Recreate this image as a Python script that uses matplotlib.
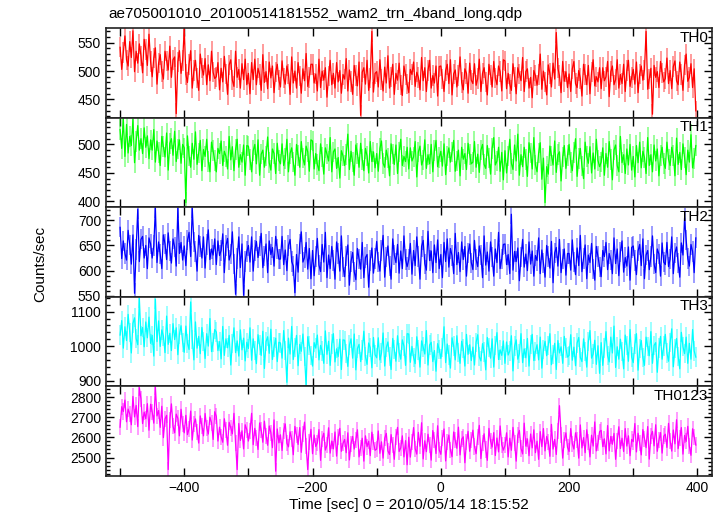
import numpy as np
import matplotlib
matplotlib.use('Agg')
import matplotlib.pyplot as plt
from matplotlib.ticker import MultipleLocator

plt.rcParams['font.family'] = ['Liberation Sans', 'DejaVu Sans']

# 2.5 s bins starting at -500 s (20 bins per row = 50 s)
t0, dt, nbin = -500, 2.5, 360
time = t0 + dt * np.arange(nbin)

th0 = [
    542, 503, 533, 562, 520, 509, 552, 524, 571, 499, 535, 514, 548, 527, 497, 556, 538, 510, 565, 517,
    490, 523, 541, 477, 514, 529, 499, 486, 535, 518, 502, 544, 489, 520, 525, 425, 516, 536, 496, 519,
    574, 494, 480, 512, 536, 470, 501, 519, 488, 466, 530, 505, 493, 522, 476, 511, 483, 535, 498, 487,
    490, 515, 467, 505, 481, 526, 495, 459, 511, 520, 484, 473, 535, 489, 503, 470, 513, 485, 521, 476,
    496, 460, 515, 485, 521, 476, 505, 494, 466, 529, 480, 499, 469, 516, 488, 509, 462, 498, 512, 484,
    472, 518, 488, 477, 509, 495, 459, 525, 479, 500, 470, 515, 491, 461, 504, 483, 531, 473, 489, 512,
    512, 479, 495, 465, 521, 471, 500, 484, 506, 454, 491, 519, 476, 496, 470, 515, 481, 501, 461, 494,
    486, 522, 465, 502, 482, 459, 510, 492, 474, 516, 422, 498, 506, 477, 519, 466, 488, 570, 463, 496,
    499, 472, 520, 485, 465, 507, 479, 527, 470, 490, 512, 459, 496, 484, 514, 475, 457, 509, 494, 477,
    462, 503, 494, 516, 473, 498, 489, 467, 524, 483, 506, 464, 501, 519, 470, 492, 479, 509, 456, 508,
    509, 486, 464, 501, 512, 478, 520, 458, 495, 502, 472, 492, 525, 480, 467, 504, 496, 461, 514, 484,
    478, 513, 475, 487, 521, 464, 496, 506, 481, 458, 512, 493, 472, 517, 488, 476, 509, 499, 465, 520,
    518, 469, 496, 477, 466, 513, 490, 460, 506, 495, 483, 524, 464, 499, 504, 470, 489, 453, 501, 492,
    475, 494, 530, 468, 500, 481, 458, 511, 496, 472, 514, 486, 568, 505, 492, 462, 517, 482, 499, 471,
    495, 464, 504, 517, 478, 471, 501, 487, 456, 512, 494, 476, 510, 460, 498, 520, 474, 490, 481, 506,
    469, 506, 483, 490, 517, 455, 499, 509, 476, 485, 520, 470, 494, 478, 512, 464, 501, 519, 473, 489,
    503, 477, 516, 462, 495, 509, 484, 502, 570, 468, 486, 505, 424, 510, 489, 499, 471, 517, 497, 481,
    487, 523, 478, 501, 469, 508, 518, 483, 476, 516, 494, 466, 511, 530, 482, 489, 513, 471, 504, 430,
]
th1 = [
    526, 493, 545, 479, 535, 485, 514, 498, 544, 468, 505, 533, 490, 510, 484, 529, 495, 515, 475, 508,
    490, 526, 469, 506, 486, 463, 514, 496, 478, 520, 455, 502, 510, 481, 523, 470, 492, 508, 467, 500,
    494, 398, 515, 480, 460, 502, 474, 522, 465, 485, 507, 454, 491, 479, 509, 470, 452, 504, 489, 472,
    452, 493, 484, 506, 463, 488, 479, 457, 514, 473, 496, 454, 491, 509, 460, 482, 469, 499, 446, 498,
    497, 474, 452, 489, 500, 466, 508, 446, 483, 490, 460, 480, 513, 468, 455, 492, 484, 449, 502, 472,
    466, 501, 463, 475, 509, 452, 484, 494, 469, 446, 500, 481, 460, 505, 476, 464, 497, 487, 453, 508,
    506, 457, 484, 465, 454, 501, 478, 448, 494, 483, 471, 512, 452, 487, 492, 458, 477, 441, 489, 480,
    463, 482, 518, 456, 488, 469, 446, 499, 484, 460, 502, 474, 454, 493, 480, 450, 505, 470, 487, 459,
    484, 453, 493, 506, 467, 460, 490, 476, 445, 501, 483, 465, 499, 449, 487, 509, 463, 479, 470, 495,
    457, 494, 471, 478, 505, 443, 487, 497, 464, 473, 508, 458, 482, 466, 500, 452, 489, 507, 461, 477,
    488, 462, 501, 447, 480, 494, 469, 487, 507, 453, 471, 490, 445, 495, 474, 484, 456, 502, 482, 466,
    469, 505, 460, 483, 451, 490, 500, 465, 458, 498, 476, 448, 493, 512, 464, 471, 495, 453, 486, 438,
    489, 450, 480, 509, 467, 456, 499, 471, 518, 446, 482, 461, 495, 474, 444, 503, 485, 457, 512, 464,
    452, 485, 503, 439, 476, 398, 461, 448, 497, 480, 464, 506, 451, 482, 487, 436, 478, 498, 458, 481,
    500, 468, 454, 486, 510, 444, 475, 493, 462, 440, 504, 479, 467, 496, 450, 485, 457, 509, 472, 461,
    469, 494, 446, 484, 460, 505, 474, 438, 490, 499, 463, 452, 514, 468, 482, 449, 492, 464, 500, 455,
    479, 443, 498, 468, 504, 459, 488, 477, 449, 512, 463, 482, 452, 499, 471, 492, 445, 481, 495, 467,
    458, 504, 474, 463, 495, 481, 445, 511, 465, 486, 456, 501, 477, 447, 490, 469, 517, 459, 475, 498,
]
th2 = [
    686, 624, 659, 634, 621, 680, 651, 613, 671, 555, 642, 722, 618, 662, 668, 625, 650, 604, 665, 653,
    625, 650, 724, 616, 657, 633, 604, 671, 653, 622, 675, 639, 615, 663, 647, 609, 724, 634, 656, 621,
    649, 610, 660, 676, 628, 724, 657, 638, 599, 670, 648, 625, 667, 605, 652, 681, 622, 643, 631, 663,
    612, 659, 630, 640, 673, 596, 650, 664, 621, 633, 677, 614, 553, 624, 667, 606, 653, 551, 618, 638,
    650, 617, 667, 599, 640, 658, 626, 649, 674, 606, 629, 653, 596, 659, 632, 646, 609, 668, 643, 623,
    623, 668, 612, 641, 600, 650, 662, 618, 609, 556, 632, 597, 653, 677, 617, 626, 656, 603, 644, 584,
    640, 590, 628, 664, 611, 598, 652, 617, 676, 586, 631, 604, 648, 620, 583, 657, 634, 599, 669, 608,
    588, 629, 651, 571, 618, 636, 598, 582, 644, 623, 603, 656, 586, 626, 632, 567, 620, 645, 595, 624,
    658, 617, 599, 640, 670, 587, 627, 649, 610, 583, 663, 631, 616, 652, 595, 639, 604, 669, 622, 608,
    622, 654, 593, 640, 610, 667, 628, 583, 648, 660, 614, 601, 678, 620, 639, 596, 651, 616, 661, 604,
    632, 586, 656, 618, 663, 607, 644, 630, 594, 674, 612, 636, 598, 657, 622, 648, 589, 635, 653, 616,
    602, 660, 622, 608, 649, 631, 586, 669, 611, 637, 599, 657, 627, 589, 643, 616, 676, 604, 623, 652,
    653, 612, 632, 594, 712, 601, 638, 618, 645, 580, 627, 662, 607, 633, 600, 657, 613, 639, 589, 630,
    620, 665, 594, 641, 615, 587, 650, 628, 605, 658, 576, 635, 646, 609, 662, 596, 623, 643, 591, 634,
    634, 601, 661, 617, 592, 645, 610, 670, 598, 624, 651, 584, 631, 616, 654, 604, 581, 648, 628, 607,
    588, 640, 628, 656, 602, 634, 621, 594, 665, 614, 643, 590, 637, 659, 597, 626, 609, 647, 581, 646,
    649, 620, 592, 639, 652, 610, 663, 584, 631, 640, 602, 628, 669, 613, 596, 643, 633, 589, 655, 617,
    612, 656, 608, 623, 667, 594, 635, 647, 615, 587, 655, 631, 705, 661, 624, 609, 652, 638, 596, 665,
]
th3 = [
    1032, 1074, 994, 1056, 1016, 1092, 1040, 980, 1066, 1082, 1022, 1004, 1138, 1030, 1054, 998, 1070, 1024, 1084, 1008,
    1031, 971, 1136, 1013, 1073, 999, 1047, 1029, 981, 1087, 1005, 1037, 987, 1065, 1019, 1053, 975, 1035, 1059, 1011,
    982, 1058, 1008, 990, 1128, 1020, 960, 1070, 994, 1028, 978, 1054, 1014, 964, 1036, 1000, 1080, 984, 1010, 1048,
    1041, 987, 1013, 963, 1057, 973, 1021, 995, 1031, 945, 1007, 1053, 981, 1015, 971, 1047, 989, 1023, 957, 1011,
    993, 1053, 959, 1021, 987, 949, 1033, 1003, 973, 1043, 935, 1013, 1027, 979, 1049, 961, 997, 1023, 955, 1011,
    1009, 965, 1045, 987, 895, 1023, 977, 1057, 961, 995, 1031, 943, 1005, 985, 1035, 969, 886, 1027, 1001, 973,
    942, 1010, 994, 1032, 960, 1002, 986, 950, 1044, 976, 1014, 944, 1006, 1036, 954, 992, 970, 1020, 932, 1018,
    1017, 979, 941, 1003, 1021, 965, 1035, 931, 993, 1005, 955, 989, 1043, 969, 947, 1009, 995, 937, 1025, 975,
    966, 1024, 960, 980, 1038, 942, 996, 1012, 970, 932, 1022, 990, 956, 1030, 982, 962, 1018, 1000, 944, 1036,
    1035, 953, 999, 967, 949, 1027, 989, 939, 1015, 997, 977, 1045, 945, 1003, 1011, 955, 987, 927, 1007, 991,
    964, 996, 1056, 952, 1006, 974, 936, 1024, 1000, 960, 1030, 982, 950, 1014, 992, 942, 1034, 976, 1004, 958,
    997, 945, 1011, 1033, 969, 957, 1007, 983, 931, 1025, 995, 965, 1021, 939, 1001, 1039, 961, 989, 973, 1015,
    950, 1012, 974, 986, 1030, 928, 1000, 1018, 962, 978, 1036, 952, 992, 966, 1022, 942, 1004, 1034, 958, 984,
    1004, 960, 1026, 936, 990, 1014, 972, 1002, 1036, 946, 976, 1008, 932, 1016, 980, 998, 950, 1028, 994, 968,
    973, 1033, 959, 997, 943, 1009, 1025, 967, 955, 1021, 985, 939, 1013, 1045, 965, 977, 1017, 947, 1001, 921,
    1010, 944, 994, 1042, 972, 954, 1026, 980, 1058, 938, 998, 962, 1020, 984, 934, 1032, 1002, 956, 1048, 968,
    952, 1006, 1036, 930, 992, 1016, 966, 944, 1026, 998, 972, 1042, 950, 1002, 1010, 924, 994, 1028, 962, 1000,
    1034, 980, 956, 1010, 1050, 940, 992, 1022, 970, 934, 1040, 998, 978, 1026, 950, 1008, 962, 1048, 986, 968,
]
th0123 = [
    2651, 2753, 2729, 2786, 2678, 2741, 2717, 2663, 2804, 2702, 2759, 2654, 2848, 2792, 2669, 2726, 2693, 2768, 2636, 2765,
    2728, 2671, 2850, 2707, 2734, 2650, 2755, 2599, 2692, 2710, 2440, 2686, 2767, 2656, 2623, 2716, 2695, 2608, 2740, 2665,
    2623, 2710, 2614, 2644, 2731, 2587, 2668, 2692, 2629, 2572, 2707, 2659, 2608, 2719, 2647, 2617, 2701, 2674, 2590, 2728,
    2705, 2582, 2651, 2603, 2576, 2693, 2636, 2561, 2675, 2648, 2618, 2720, 2570, 2440, 2669, 2585, 2633, 2543, 2663, 2639,
    2582, 2630, 2720, 2564, 2645, 2597, 2540, 2672, 2636, 2576, 2681, 2609, 2561, 2657, 2624, 2549, 2687, 2432, 2642, 2573,
    2613, 2535, 2634, 2667, 2571, 2553, 2628, 2592, 2514, 2655, 2610, 2565, 2649, 2526, 2619, 2676, 2559, 2440, 2577, 2640,
    2519, 2612, 2555, 2573, 2639, 2486, 2594, 2621, 2537, 2561, 2648, 2522, 2582, 2543, 2627, 2507, 2600, 2645, 2531, 2570,
    2590, 2524, 2623, 2488, 2569, 2605, 2542, 2587, 2638, 2503, 2548, 2596, 2482, 2608, 2554, 2581, 2509, 2626, 2575, 2536,
    2542, 2632, 2521, 2578, 2497, 2596, 2620, 2533, 2515, 2614, 2560, 2491, 2602, 2650, 2530, 2548, 2608, 2503, 2584, 2464,
    2601, 2502, 2577, 2649, 2544, 2517, 2625, 2556, 2673, 2493, 2583, 2529, 2616, 2562, 2487, 2634, 2589, 2520, 2658, 2538,
    2516, 2597, 2642, 2483, 2576, 2612, 2537, 2504, 2627, 2585, 2546, 2651, 2513, 2591, 2603, 2474, 2579, 2630, 2531, 2588,
    2636, 2555, 2519, 2600, 2660, 2495, 2573, 2618, 2540, 2486, 2645, 2582, 2552, 2624, 2510, 2597, 2528, 2657, 2564, 2537,
    2560, 2623, 2503, 2596, 2536, 2650, 2572, 2482, 2611, 2635, 2545, 2518, 2671, 2557, 2593, 2509, 2617, 2548, 2638, 2524,
    2581, 2491, 2629, 2554, 2644, 2533, 2605, 2578, 2506, 2665, 2542, 2590, 2515, 2632, 2758, 2614, 2497, 2587, 2623, 2551,
    2530, 2644, 2569, 2542, 2623, 2587, 2497, 2662, 2548, 2599, 2524, 2638, 2578, 2503, 2611, 2557, 2677, 2533, 2572, 2629,
    2635, 2554, 2593, 2518, 2659, 2533, 2605, 2566, 2620, 2491, 2584, 2653, 2545, 2596, 2530, 2644, 2557, 2608, 2509, 2590,
    2579, 2669, 2528, 2621, 2570, 2513, 2639, 2594, 2549, 2654, 2492, 2609, 2630, 2558, 2663, 2531, 2585, 2624, 2522, 2606,
    2616, 2550, 2670, 2583, 2532, 2637, 2568, 2688, 2544, 2595, 2649, 2517, 2610, 2580, 2655, 2556, 2511, 2643, 2604, 2562,
]

bands = ['TH0', 'TH1', 'TH2', 'TH3', 'TH0123']
series = [th0, th1, th2, th3, th0123]
errors = [18, 18, 20, 28, 40]
colors = ['#ff0000', '#00ff00', '#0000ff', '#00ffff', '#ff00ff']
ylims = [(418, 576), (390, 547), (548, 726), (883, 1143), (2408, 2854)]
ymajor = [50, 50, 50, 100, 100]
yminor = [10, 10, 10, 20, 20]

fig, axes = plt.subplots(5, 1, figsize=(7.23, 5.16), dpi=100, sharex=True)
fig.subplots_adjust(left=106 / 723, right=711.5 / 723, top=1 - 28 / 516,
                    bottom=1 - 476 / 516, hspace=0)

for ax, name, y, err, col, yl, ma, mi in zip(axes, bands, series, errors,
                                             colors, ylims, ymajor, yminor):
    y = np.array(y, dtype=float)
    ax.vlines(time, y - err, y + err, color=col, alpha=0.5, lw=1.1)
    ax.plot(time, y, color=col, lw=0.9)
    ax.set_xlim(-522, 422)
    ax.set_ylim(*yl)
    ax.yaxis.set_major_locator(MultipleLocator(ma))
    ax.yaxis.set_minor_locator(MultipleLocator(mi))
    ax.xaxis.set_major_locator(MultipleLocator(200))
    ax.xaxis.set_minor_locator(MultipleLocator(100))
    ax.tick_params(which='both', direction='in', top=True, right=True,
                   labelsize=10, width=1)
    ax.tick_params(which='major', length=6)
    ax.tick_params(axis='y', which='minor', length=3)
    ax.tick_params(axis='x', which='minor', length=6)
    for s in ax.spines.values():
        s.set_linewidth(1.2)
        s.set_color('#222222')
    ax.text(0.995, 0.97, name, transform=ax.transAxes, ha='right', va='top',
            fontsize=11)

axes[-1].set_xlabel('Time [sec] 0 = 2010/05/14 18:15:52', fontsize=11, labelpad=2)
fig.text(0.055, 0.488, 'Counts/sec', rotation=90, ha='center', va='center',
         fontsize=11)
fig.text(108 / 723, 1 - 14 / 516, 'ae705001010_20100514181552_wam2_trn_4band_long.qdp',
         ha='left', va='center', fontsize=11)

fig.savefig('out.png', dpi=100)
